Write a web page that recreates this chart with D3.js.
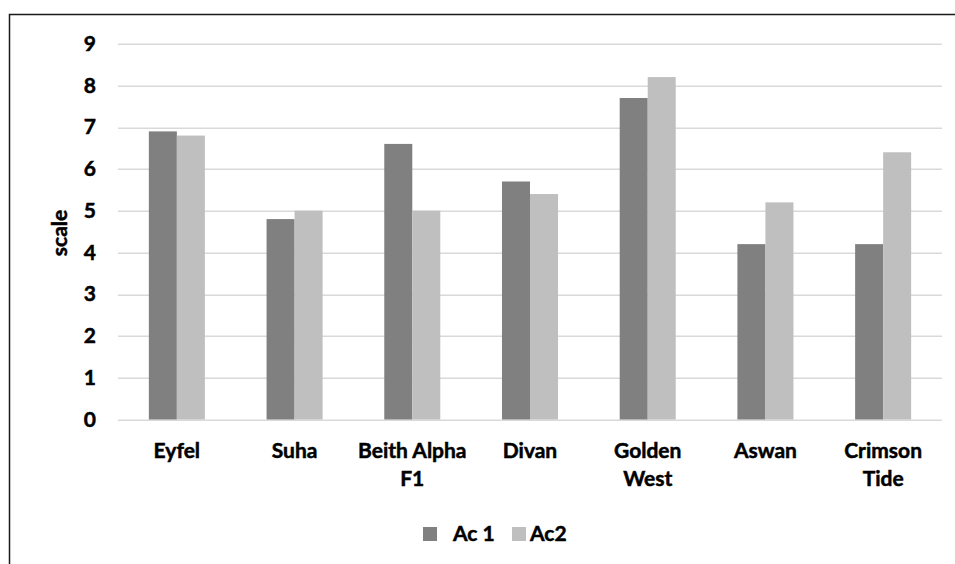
<!DOCTYPE html>
<html>
<head>
<meta charset="utf-8">
<script src="https://cdn.jsdelivr.net/npm/d3@7"></script>
<style>
html,body{margin:0;padding:0;background:#fff;}
svg{display:block;}
text{font-family:Lato,"Open Sans",sans-serif;font-weight:bold;fill:#000;stroke:#000;stroke-width:0.5px;}
</style>
</head>
<body>
<svg id="chart" width="955" height="564"></svg>
<script>
const categories = [["Eyfel"],["Suha"],["Beith Alpha","F1"],["Divan"],["Golden","West"],["Aswan"],["Crimson","Tide"]];
const seriesNames = ["Ac 1","Ac2"];
const ac1 = [6.9,4.8,6.6,5.7,7.7,4.2,4.2];
const ac2 = [6.8,5.0,5.0,5.4,8.2,5.2,6.4];
const yTicks = [0,1,2,3,4,5,6,7,8,9];
const colors = ["#808080","#bfbfbf"];

const svg = d3.select("#chart");
const W = 955, H = 564;
const m = {left:118, right:13, top:43.7, bottom:144.5};
const innerW = W - m.left - m.right;
const innerH = H - m.top - m.bottom;
const FS = "21px";

// outer border
svg.append("rect").attr("x",9.5).attr("y",14.5).attr("width",960).attr("height",560)
  .attr("fill","none").attr("stroke","#1a1a1a").attr("stroke-width",1.5);

const g = svg.append("g").attr("transform",`translate(${m.left},${m.top})`);

const x = d3.scaleBand().domain(d3.range(categories.length)).range([0,innerW]).padding(0);
const y = d3.scaleLinear().domain([0,9]).range([innerH,0]);
const barW = x.bandwidth()*0.238;
const xs = d3.scaleBand().domain([0,1]).range([x.bandwidth()/2-barW, x.bandwidth()/2+barW]).padding(0);

// gridlines
g.append("g").selectAll("line").data(yTicks).join("line")
  .attr("x1",0).attr("x2",innerW)
  .attr("y1",d=>Math.round(y(d))+0.5).attr("y2",d=>Math.round(y(d))+0.5)
  .attr("stroke","#d9d9d9").attr("stroke-width",1.5);

// y axis labels
const yAxis = d3.axisLeft(y).tickValues(yTicks).tickSize(0).tickPadding(22);
const ya = g.append("g").call(yAxis);
ya.attr("font-family",null).attr("font-size",null);
ya.select(".domain").remove();
ya.selectAll("text").style("font-size",FS).attr("fill","#000");

// bars
const series = [ac1, ac2];
series.forEach((vals,si)=>{
  g.append("g").selectAll("rect").data(vals).join("rect")
    .attr("x",(d,i)=>x(i)+xs(si))
    .attr("y",d=>y(d))
    .attr("width",xs.bandwidth())
    .attr("height",d=>innerH-y(d))
    .attr("fill",colors[si]);
});

// x labels
const xl = g.append("g").selectAll("text").data(categories).join("text")
  .attr("text-anchor","middle")
  .attr("x",(d,i)=>x(i)+x.bandwidth()/2)
  .attr("y",innerH+39)
  .style("font-size",FS);
xl.selectAll("tspan").data(d=>d).join("tspan")
  .attr("x",function(){return d3.select(this.parentNode).attr("x");})
  .attr("dy",(d,i)=>i===0?0:28)
  .text(d=>d);

// y title
svg.append("text").attr("transform","translate(67,233) rotate(-90)")
  .attr("text-anchor","middle").style("font-size",FS).text("scale");

// legend
const legend = svg.append("g");
const legX = [423,512];
seriesNames.forEach((n,i)=>{
  legend.append("rect").attr("x",legX[i]).attr("y",527).attr("width",14).attr("height",14).attr("fill",colors[i]);
  legend.append("text").attr("x",legX[i]+(i===0?30:18)).attr("y",541).style("font-size",FS).text(n);
});
</script>
</body>
</html>
